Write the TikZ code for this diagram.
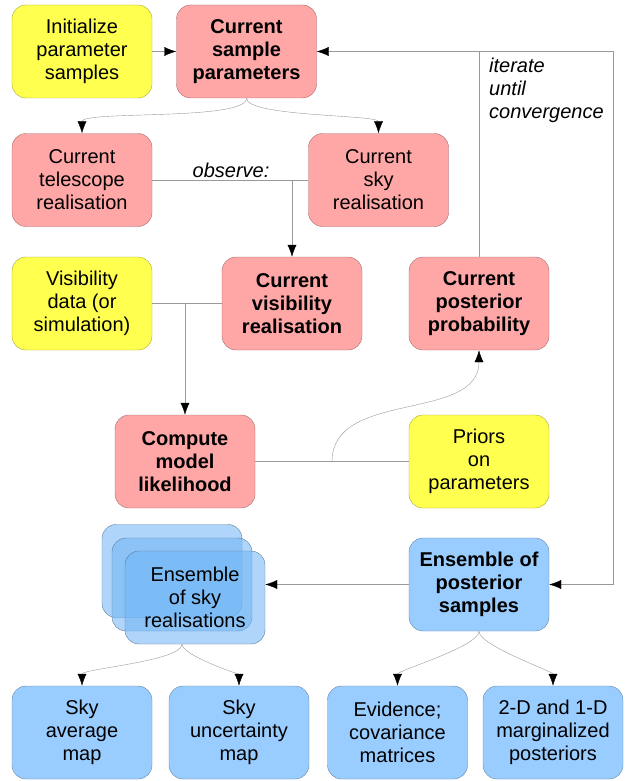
\documentclass[tikz,border=0pt]{standalone}
\usepackage{fontspec}
\setmainfont{Liberation Sans}
\usetikzlibrary{arrows.meta}
\definecolor{pinkbox}{RGB}{255,166,166}
\definecolor{yelbox}{RGB}{255,255,80}
\definecolor{bluebox}{RGB}{153,204,255}
\definecolor{stackblue}{RGB}{110,180,245}
\newcommand\boxfont{\fontsize{20}{23}\selectfont}
\begin{document}
\begin{tikzpicture}[x=1pt,y=-1pt,
    box/.style={draw=#1!65!black, fill=#1, rounded corners=14pt, minimum width=140pt,
        minimum height=93pt, inner sep=0pt, align=center, font=\boxfont},
    bold/.style={font=\boxfont\bfseries},
    note/.style={inner sep=0pt, align=left, font=\boxfont\itshape},
    line/.style={draw=black!40, thin},
    conn/.style={line, -{Latex[length=12pt,width=9pt,color=black]}}]
    \useasboundingbox (0,0) rectangle (628,781);
    % boxes
    \node[box=yelbox] (init) at (82,51.5) {Initialize\\parameter\\samples};
    \node[box=pinkbox, bold] (cur) at (246.5,51.5) {Current\\sample\\parameters};
    \node[box=pinkbox] (tel) at (82,180) {Current\\telescope\\realisation};
    \node[box=pinkbox] (sky) at (378.5,180) {Current\\sky\\realisation};
    \node[box=yelbox] (data) at (82,303.5) {Visibility\\data (or\\simulation)};
    \node[box=pinkbox, bold] (vis) at (292,303.5) {Current\\visibility\\realisation};
    \node[box=pinkbox, bold] (post) at (479,303.5) {Current\\posterior\\probability};
    \node[box=pinkbox, bold] (like) at (185,461.5) {Compute\\model\\likelihood};
    \node[box=yelbox] (prior) at (479,461.5) {Priors\\on\\parameters};
    \node[box=stackblue, draw=bluebox!60!black, fill opacity=0.55] (stackA) at (172,571) {};
    \node[box=stackblue, draw=bluebox!60!black, fill opacity=0.55] (stackB) at (182,584.5) {};
    \node[box=stackblue, draw=bluebox!60!black, fill opacity=0.55, text opacity=1] (stack) at (195,597.5) {Ensemble\\of sky\\realisations};
    \node[box=bluebox, bold] (ens) at (479,584.5) {Ensemble of\\posterior\\samples};
    \node[box=bluebox] (avg) at (82,732.5) {Sky\\average\\map};
    \node[box=bluebox] (unc) at (239,732.5) {Sky\\uncertainty\\map};
    \node[box=bluebox] (evid) at (397.5,732.5) {Evidence;\\covariance\\matrices};
    \node[box=bluebox] (marg) at (553,732.5) {2-D and 1-D\\marginalized\\posteriors};
    % loop back
    \coordinate (loop) at (613,51.5);
    \draw[conn] (init) -- (cur);
    \draw[conn] (post.north) |- (cur.east);
    \draw[line] (post.north |- cur.east) -- (loop);
    \draw[conn] (loop) |- (ens.east);
    \node[note, anchor=north west] (iter) at (489,58) {iterate\\until\\convergence};
    % observe
    \draw[conn] (cur.south) to[out=-90, in=90, looseness=0.35] (tel.north);
    \draw[conn] (cur.south) to[out=-90, in=90, looseness=0.35] (sky.north);
    \draw[line] (tel) -- (sky);
    \node[note] (obs) at (231,170) {observe:};
    \draw[conn] (tel.east -| vis.north) -- (vis.north);
    % likelihood
    \draw[line] (data) -- (vis);
    \draw[conn] (data.east -| like.north) -- (like.north);
    \draw[line] (like) -- (prior);
    \coordinate (join) at (332,461.5);
    \draw[conn] (join) to[out=90, in=-90] (post.south);
    % outputs
    \draw[conn] (ens) -- (ens.west -| stack.east);
    \draw[conn] (stackB |- stack.south) to[out=-90, in=90, looseness=0.4] (avg.north);
    \draw[conn] (stackB |- stack.south) to[out=-90, in=90, looseness=0.4] (unc.north);
    \draw[conn] (ens.south) to[out=-90, in=90, looseness=0.4] (evid.north);
    \draw[conn] (ens.south) to[out=-90, in=90, looseness=0.4] (marg.north);
\end{tikzpicture}
\end{document}
